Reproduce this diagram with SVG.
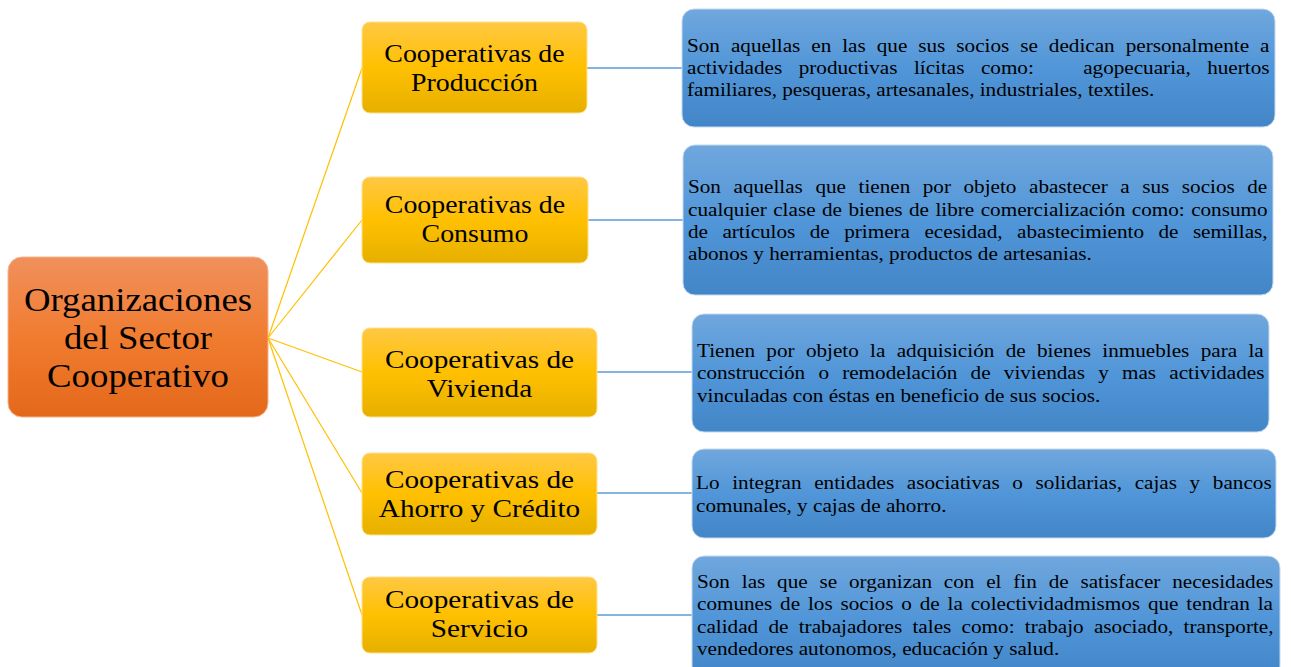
<svg xmlns="http://www.w3.org/2000/svg" width="1291" height="667" viewBox="0 0 1291 667">
<style>
.t{font-family:"Liberation Serif","Times New Roman",serif;fill:#000}
.d{font-size:19px}
.y{font-size:25px;text-anchor:middle}
.r{font-size:33px;text-anchor:middle}
.yl{stroke:#FFC000;stroke-width:1.2;fill:none}
.bl{stroke:#5B9BD5;stroke-width:1.3;fill:none}
.root{fill:url(#gO);stroke:#F4B48C;stroke-width:1}
.yb{fill:url(#gY);stroke:#FFE08A;stroke-width:1}
.bb{fill:url(#gB);stroke:#C5D9F0;stroke-width:1}
</style>
<defs>
<linearGradient id="gO" x1="0" y1="0" x2="0" y2="1">
<stop offset="0" stop-color="#F0905C"/>
<stop offset="0.5" stop-color="#F07C30"/>
<stop offset="1" stop-color="#E4681A"/>
</linearGradient>
<linearGradient id="gY" x1="0" y1="0" x2="0" y2="1">
<stop offset="0" stop-color="#FFC843"/>
<stop offset="0.5" stop-color="#FFC000"/>
<stop offset="1" stop-color="#E6B000"/>
</linearGradient>
<linearGradient id="gB" x1="0" y1="0" x2="0" y2="1">
<stop offset="0" stop-color="#70A7DD"/>
<stop offset="0.5" stop-color="#5196D8"/>
<stop offset="1" stop-color="#4286C8"/>
</linearGradient>
</defs>
<rect width="1291" height="667" fill="#fff"/>
<g id="connectors">
<line class="yl" x1="268" y1="338" x2="362" y2="68"/>
<line class="yl" x1="268" y1="338" x2="362" y2="220"/>
<line class="yl" x1="268" y1="338" x2="362" y2="372"/>
<line class="yl" x1="268" y1="338" x2="362" y2="493"/>
<line class="yl" x1="268" y1="338" x2="362" y2="615"/>
<line class="bl" x1="587" y1="68" x2="682" y2="68"/>
<line class="bl" x1="588" y1="220" x2="683" y2="220"/>
<line class="bl" x1="597" y1="372" x2="692" y2="372"/>
<line class="bl" x1="597" y1="493" x2="692" y2="493"/>
<line class="bl" x1="597" y1="615" x2="692" y2="615"/>
</g>
<g id="root">
<rect class="root" x="8" y="257" width="260" height="160" rx="14"/>
<text class="t r" transform="translate(138,0) scale(1.115,1)"><tspan x="0" y="311">Organizaciones</tspan><tspan x="0" y="349">del Sector</tspan><tspan x="0" y="387">Cooperativo</tspan></text>
</g>
<g id="produccion">
<rect class="yb" x="362" y="22" width="225" height="91" rx="8"/>
<text class="t y" transform="translate(474.5,0) scale(1.115,1)"><tspan x="0" y="62.3">Cooperativas de</tspan><tspan x="0" y="90.7">Producción</tspan></text>
</g>
<g id="consumo">
<rect class="yb" x="362" y="177" width="226" height="86" rx="8"/>
<text class="t y" transform="translate(475,0) scale(1.115,1)"><tspan x="0" y="213.3">Cooperativas de</tspan><tspan x="0" y="242.3">Consumo</tspan></text>
</g>
<g id="vivienda">
<rect class="yb" x="362" y="328" width="235" height="89" rx="8"/>
<text class="t y" transform="translate(479.5,0) scale(1.17,1)"><tspan x="0" y="367.7">Cooperativas de</tspan><tspan x="0" y="396.7">Vivienda</tspan></text>
</g>
<g id="ahorro">
<rect class="yb" x="362" y="453" width="235" height="82" rx="8"/>
<text class="t y" transform="translate(479.5,0) scale(1.17,1)"><tspan x="0" y="488.3">Cooperativas de</tspan><tspan x="0" y="517.3">Ahorro y Crédito</tspan></text>
</g>
<g id="servicio">
<rect class="yb" x="362" y="577" width="235" height="76" rx="8"/>
<text class="t y" transform="translate(479.5,0) scale(1.17,1)"><tspan x="0" y="607.7">Cooperativas de</tspan><tspan x="0" y="637.5">Servicio</tspan></text>
</g>
<g id="desc-produccion">
<rect class="bb" x="682" y="9" width="593" height="118" rx="12"/>
<text class="t d" transform="translate(687,0) scale(1.115,1)"><tspan x="0" y="52.5" word-spacing="5.1">Son aquellas en las que sus socios se dedican personalmente a</tspan><tspan x="0" y="74.5" word-spacing="10">actividades productivas lícitas como:&#160;&#160; agopecuaria, huertos</tspan><tspan x="0" y="96.5">familiares, pesqueras, artesanales, industriales, textiles.</tspan></text>
</g>
<g id="desc-consumo">
<rect class="bb" x="683" y="145" width="590" height="150" rx="12"/>
<text class="t d" transform="translate(688,0) scale(1.115,1)"><tspan x="0" y="193.5" word-spacing="6.5">Son aquellas que tienen por objeto abastecer a sus socios de</tspan><tspan x="0" y="216" word-spacing="1.05">cualquier clase de bienes de libre comercialización como: consumo</tspan><tspan x="0" y="238.5" word-spacing="8.2">de artículos de primera ecesidad, abastecimiento de semillas,</tspan><tspan x="0" y="260.5">abonos y herramientas, productos de artesanias.</tspan></text>
</g>
<g id="desc-vivienda">
<rect class="bb" x="692" y="314" width="577" height="118" rx="12"/>
<text class="t d" transform="translate(697,0) scale(1.115,1)"><tspan x="0" y="357.5" word-spacing="5.4">Tienen por objeto la adquisición de bienes inmuebles para la</tspan><tspan x="0" y="379.5" word-spacing="7.1">construcción o remodelación de viviendas y mas actividades</tspan><tspan x="0" y="402">vinculadas con éstas en beneficio de sus socios.</tspan></text>
</g>
<g id="desc-ahorro">
<rect class="bb" x="692" y="449" width="584" height="89" rx="12"/>
<text class="t d" transform="translate(696,0) scale(1.115,1)"><tspan x="0" y="489.5" word-spacing="6.6">Lo integran entidades asociativas o solidarias, cajas y bancos</tspan><tspan x="0" y="512">comunales, y cajas de ahorro.</tspan></text>
</g>
<g id="desc-servicio">
<rect class="bb" x="692" y="556" width="588" height="122" rx="12"/>
<text class="t d" transform="translate(697,0) scale(1.115,1)"><tspan x="0" y="588.5" word-spacing="5.85">Son las que se organizan con el fin de satisfacer necesidades</tspan><tspan x="0" y="610.5" word-spacing="2.3">comunes de los socios o de la colectividadmismos que tendran la</tspan><tspan x="0" y="633.5" word-spacing="4.5">calidad de trabajadores tales como: trabajo asociado, transporte,</tspan><tspan x="0" y="655.5">vendedores autonomos, educación y salud.</tspan></text>
</g>
</svg>
